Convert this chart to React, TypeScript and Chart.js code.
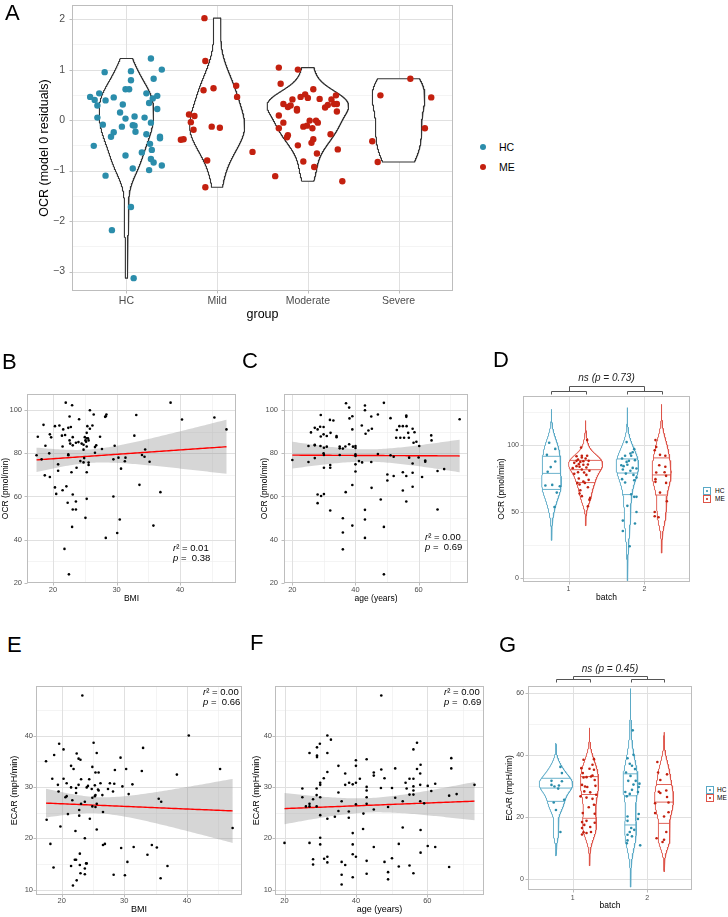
import React, { useEffect, useRef } from "react";
import { Chart, registerables } from "chart.js";

Chart.register(...registerables);

const FF = "'Liberation Sans', Arial, Helvetica, sans-serif";
Chart.defaults.font.family = FF;

const TEAL = "#2b8dab";
const RED = "#c3200f";
const TEAL_LIGHT = "#5aa9c6";
const RED_LIGHT = "#de5448";
const TICK_COL = "#4d4d4d";
const GRID_MAJOR = "#e0e0e0";
const GRID_MINOR = "#ececec";
const BORDER = "#bdbdbd";

// ---------------- Panel A data ----------------
const A_CATEGORIES = ["HC", "Mild", "Moderate", "Severe"];
const A_HC_OCR = [0.95, 0.97, 0.79, 1.22, 1.0, 0.82, 0.46, 0.53, 0.4, 0.29, 0.39, 0.45, 0.61, 0.61, 0.31, 0.15, 0.03, 0.05, -0.09, -0.13, 0.07, -0.1, -0.11, -0.23, -0.24, -0.33, -0.51, 0.53, 0.48, 0.43, 0.34, 0.22, 0.05, -0.05, -0.28, -0.33, -0.36, -0.47, -0.64, -0.59, -0.77, -0.84, -0.7, -0.96, -0.99, -0.9, -1.1, -1.72, -2.18, -3.13];
const A_HC_JIT = [-0.24, 0.05, 0.05, 0.27, 0.39, 0.3, -0.4, -0.3, -0.35, -0.32, -0.23, -0.14, -0.01, 0.03, -0.04, -0.07, -0.01, -0.32, -0.26, -0.05, 0.09, 0.07, 0.09, 0.1, -0.14, -0.17, -0.36, 0.22, 0.34, 0.29, 0.25, 0.34, 0.2, 0.27, 0.22, 0.37, 0.37, 0.26, 0.17, 0.28, 0.27, 0.3, -0.01, 0.07, 0.25, 0.39, -0.23, 0.05, -0.16, 0.08];
const A_MILD_OCR = [2.02, 1.17, 0.59, 0.63, 0.68, 0.46, 0.11, 0.08, -0.04, -0.19, -0.13, -0.15, -0.39, -0.38, -0.8, -1.33, -0.63];
const A_MILD_JIT = [-0.14, -0.13, -0.15, -0.04, 0.21, 0.22, -0.31, -0.25, -0.29, -0.26, -0.06, 0.03, -0.4, -0.37, -0.11, -0.13, 0.39];
const A_MOD_OCR = [1.04, 1.0, 0.72, 0.61, 0.46, 0.51, 0.44, 0.41, 0.42, 0.49, 0.41, 0.32, 0.26, 0.29, 0.22, 0.19, 0.25, 0.3, 0.32, 0.32, 0.17, 0.09, -0.05, -0.01, -0.01, -0.05, -0.13, -0.11, -0.16, -0.16, -0.3, -0.34, -0.28, -0.38, -0.45, -0.5, -0.58, -0.66, -0.82, -0.93, -1.11, -1.21];
const A_MOD_JIT = [-0.32, -0.11, -0.3, 0.06, -0.08, -0.03, 0.0, -0.17, 0.13, 0.31, 0.26, -0.27, -0.22, -0.19, -0.12, -0.12, 0.19, 0.22, 0.29, 0.32, 0.32, -0.32, -0.27, 0.02, 0.09, 0.11, -0.05, -0.01, 0.05, -0.32, -0.22, -0.23, 0.25, 0.06, 0.04, -0.11, 0.33, 0.1, -0.05, 0.07, -0.36, 0.38];
const A_SEV_OCR = [0.82, 0.49, 0.45, -0.16, -0.42, -0.83];
const A_SEV_JIT = [0.13, -0.2, 0.36, 0.29, -0.29, -0.23];

// ---------------- Panel B data (BMI vs OCR) ----------------
const B_BMI = [22.0, 23.0, 38.5, 18.5, 20.3, 21.0, 21.6, 22.4, 22.8, 22.6, 24.1, 25.8, 26.4, 25.4, 26.2, 25.8, 25.3, 28.3, 28.4, 28.2, 33.1, 40.3, 45.4, 47.3, 17.6, 19.5, 19.7, 21.4, 21.9, 21.5, 18.8, 23.1, 22.6, 22.7, 23.1, 23.6, 24.0, 24.5, 25.0, 25.3, 25.5, 24.8, 25.1, 25.2, 25.6, 25.3, 26.8, 26.6, 27.4, 24.8, 27.7, 29.7, 32.8, 34.5, 17.4, 18.2, 19.4, 22.4, 22.4, 18.7, 19.5, 20.8, 20.8, 20.3, 20.5, 21.5, 22.1, 22.9, 23.7, 23.1, 23.6, 22.3, 23.1, 23.6, 23.0, 21.8, 22.5, 24.3, 24.8, 24.9, 25.6, 25.6, 25.3, 25.3, 25.1, 26.6, 29.5, 30.3, 31.4, 31.3, 30.7, 29.5, 30.5, 30.1, 28.3, 33.6, 34.0, 34.4, 35.2, 36.9, 35.8];
const B_OCR = [103.5, 102.3, 103.5, 93.2, 92.6, 92.9, 91.1, 91.8, 92.2, 97.1, 95.8, 100.0, 98.0, 92.6, 92.9, 91.4, 89.5, 97.2, 98.0, 96.9, 97.8, 95.7, 96.6, 91.1, 87.7, 88.8, 87.4, 88.2, 88.5, 83.2, 83.5, 87.5, 86.0, 84.5, 83.7, 84.9, 85.2, 84.5, 87.5, 87.0, 87.0, 84.0, 86.0, 85.4, 86.0, 83.2, 83.7, 82.9, 87.7, 81.7, 82.0, 83.5, 88.2, 81.8, 79.1, 77.2, 80.0, 79.5, 79.1, 69.8, 69.0, 74.9, 71.9, 64.2, 61.2, 62.9, 64.7, 71.2, 73.3, 60.9, 57.7, 57.1, 54.0, 54.0, 45.9, 35.7, 23.9, 76.4, 75.8, 77.8, 75.7, 74.6, 71.2, 58.9, 50.1, 80.3, 77.2, 78.0, 78.0, 76.3, 72.9, 60.0, 49.3, 43.1, 40.8, 65.4, 79.2, 78.4, 76.1, 62.0, 46.5];

// ---------------- Panel C data (age vs OCR) ----------------
const C_AGE = [37.0, 38.0, 43.0, 43.0, 49.0, 29.0, 31.9, 33.0, 38.1, 39.0, 45.0, 47.1, 51.1, 56.1, 56.1, 73.0, 25.9, 27.1, 28.0, 28.8, 29.9, 29.0, 29.9, 30.9, 32.1, 34.0, 34.0, 39.0, 42.0, 44.1, 45.2, 43.2, 53.1, 53.9, 55.0, 56.2, 58.1, 56.7, 58.7, 52.9, 54.2, 55.4, 56.9, 58.4, 59.3, 60.2, 64.0, 64.1, 25.1, 27.1, 27.1, 28.9, 30.0, 30.9, 35.0, 35.0, 36.0, 36.8, 38.0, 39.2, 40.0, 40.0, 20.0, 25.1, 27.1, 29.9, 30.0, 30.0, 32.0, 32.0, 35.0, 40.0, 40.0, 40.0, 40.0, 41.1, 42.1, 39.0, 45.0, 47.1, 50.1, 50.1, 52.1, 51.1, 52.1, 55.0, 56.1, 58.1, 57.0, 58.1, 60.0, 62.1, 62.1, 66.0, 68.1, 61.1, 55.0, 58.1, 56.1, 48.0, 45.1, 36.9, 28.0, 29.1, 30.0, 28.0, 32.0, 36.0, 43.0, 43.0, 39.0, 36.0, 49.0, 43.0, 36.0, 49.0, 66.0];
const C_OCR = [103.2, 101.2, 102.2, 100.0, 103.4, 97.8, 95.5, 95.2, 96.2, 97.2, 97.1, 98.0, 96.3, 97.5, 96.9, 95.8, 89.7, 91.8, 91.1, 92.3, 92.2, 87.8, 88.8, 88.0, 89.5, 88.0, 87.5, 91.1, 92.9, 90.6, 91.4, 89.1, 90.8, 92.6, 92.6, 92.6, 91.4, 89.5, 89.8, 87.2, 87.2, 87.2, 87.2, 84.9, 85.4, 83.4, 88.3, 86.0, 83.4, 83.7, 84.0, 83.4, 82.6, 83.1, 83.2, 82.3, 82.2, 83.2, 84.2, 83.1, 83.4, 82.5, 76.9, 76.0, 77.8, 80.0, 79.2, 73.3, 74.6, 73.3, 79.2, 79.5, 78.8, 74.9, 71.6, 76.4, 75.8, 65.3, 76.0, 79.7, 70.2, 67.4, 69.5, 79.1, 78.4, 71.2, 69.5, 71.0, 78.0, 75.3, 78.1, 76.7, 76.1, 71.8, 72.7, 69.0, 62.8, 64.5, 57.7, 58.6, 64.0, 62.0, 60.9, 60.2, 61.1, 56.9, 53.5, 49.9, 53.8, 49.3, 46.5, 43.3, 45.9, 40.8, 35.5, 23.9, 54.0];

// ---------------- Panel E data (BMI vs ECAR) ----------------
const E_BMI = [23.3, 40.3, 45.3, 47.3, 17.5, 17.6, 19.6, 18.8, 20.3, 18.5, 19.4, 19.5, 20.3, 20.8, 20.6, 20.8, 21.5, 21.5, 21.9, 21.7, 21.0, 19.8, 22.2, 22.4, 22.7, 23.0, 22.3, 22.3, 22.7, 23.1, 22.8, 22.8, 23.1, 23.7, 23.7, 24.4, 24.2, 24.0, 24.5, 24.9, 25.1, 24.8, 24.9, 24.9, 25.3, 25.4, 25.3, 25.4, 25.6, 25.4, 25.9, 25.6, 25.8, 25.9, 25.6, 26.2, 26.5, 26.6, 26.6, 26.9, 27.4, 27.7, 28.5, 28.4, 28.2, 29.4, 29.7, 30.3, 30.7, 31.3, 29.5, 31.5, 28.3, 30.1, 30.5, 32.8, 33.0, 35.5, 35.9, 34.4, 35.2, 33.7, 36.9, 35.8, 38.4, 18.2, 18.7, 22.9, 22.1, 22.3, 21.5, 22.9, 23.7, 23.9, 24.0, 22.4, 23.0, 23.7, 21.8];
const E_ECAR = [47.8, 40.0, 33.5, 22.0, 35.0, 23.6, 38.4, 36.2, 37.3, 31.6, 30.4, 29.1, 31.6, 30.7, 28.0, 28.2, 29.9, 34.1, 33.5, 27.4, 24.7, 22.3, 21.4, 36.5, 35.5, 35.3, 29.8, 28.8, 30.4, 31.5, 25.5, 24.4, 26.7, 27.1, 20.0, 31.5, 30.2, 29.9, 23.8, 33.9, 38.6, 29.6, 27.9, 26.2, 30.3, 28.4, 28.2, 26.1, 26.7, 32.8, 32.8, 36.6, 29.5, 29.3, 21.7, 30.7, 28.4, 25.1, 18.7, 18.9, 29.6, 30.7, 33.3, 30.6, 29.1, 35.7, 30.1, 33.5, 28.6, 30.5, 18.1, 18.3, 12.9, 12.8, 15.4, 33.1, 37.6, 27.7, 27.1, 18.7, 18.2, 16.8, 14.6, 12.2, 32.4, 18.9, 14.3, 17.0, 15.8, 15.8, 14.6, 14.8, 14.1, 15.1, 15.1, 11.8, 13.2, 13.0, 10.8];

// ---------------- Panel F data (age vs ECAR) ----------------
const F_AGE = [47.1, 32.0, 33.0, 27.0, 29.9, 29.1, 29.1, 29.1, 32.0, 35.1, 40.0, 40.0, 43.0, 57.1, 56.1, 66.7, 66.7, 58.1, 58.0, 57.1, 56.1, 55.0, 53.9, 56.1, 56.1, 56.1, 55.0, 54.2, 58.0, 60.1, 62.2, 61.1, 58.0, 59.1, 53.1, 51.0, 50.1, 51.0, 49.0, 47.0, 47.1, 48.0, 45.0, 45.0, 43.0, 43.0, 43.0, 43.0, 41.1, 40.0, 39.1, 38.1, 37.0, 37.0, 40.0, 42.1, 45.0, 35.1, 36.0, 35.1, 38.0, 38.0, 34.1, 32.0, 32.0, 31.0, 30.0, 30.0, 29.0, 29.0, 28.0, 30.0, 30.0, 27.0, 27.0, 25.0, 25.0, 26.0, 29.0, 20.0, 27.0, 30.0, 30.0, 28.0, 28.0, 31.1, 32.0, 32.0, 36.0, 36.0, 36.0, 37.0, 39.1, 39.1, 39.1, 40.0, 39.1, 42.0, 43.0, 43.0, 45.0, 48.0, 49.0, 49.0, 50.1, 52.0, 52.0, 53.1, 55.0, 56.1, 58.1, 58.1, 60.1, 62.2, 66.1, 66.1, 68.2, 73.2];
const F_ECAR = [47.8, 40.0, 39.2, 36.6, 38.4, 37.7, 36.1, 35.8, 36.6, 34.1, 35.2, 34.1, 35.4, 38.6, 37.3, 35.6, 33.6, 34.3, 32.6, 33.5, 31.6, 31.6, 30.8, 30.1, 29.3, 28.5, 28.5, 29.7, 30.4, 30.2, 30.6, 29.2, 27.2, 26.8, 27.2, 27.9, 29.8, 33.6, 26.1, 29.8, 33.4, 31.7, 32.2, 32.8, 30.0, 29.3, 28.0, 26.7, 31.6, 30.8, 30.5, 30.8, 30.4, 32.6, 26.6, 24.8, 25.6, 28.9, 27.2, 25.3, 25.2, 24.0, 24.2, 23.8, 32.9, 31.7, 30.8, 30.4, 29.7, 28.4, 27.6, 28.0, 24.5, 26.7, 26.2, 29.7, 28.0, 26.2, 26.2, 19.1, 19.1, 20.1, 18.8, 15.9, 14.9, 16.0, 16.4, 15.3, 15.4, 12.9, 11.0, 14.8, 21.0, 18.8, 16.9, 16.4, 12.4, 21.8, 15.6, 13.1, 18.3, 15.4, 13.4, 12.0, 16.1, 14.5, 18.9, 22.1, 14.7, 13.2, 17.2, 21.6, 18.5, 18.3, 14.4, 28.3, 28.6, 30.4];

// ---------------- Panel D data (OCR by batch/group) ----------------
const BATCH_LABELS = ["1", "2"];
const D_HC1 = [101.8, 97.2, 92.7, 87.7, 83.5, 80.0, 70.1, 69.6, 69.1, 64.3, 53.5];
const D_HC1_JIT = [-0.03, 0.05, -0.06, 0.05, -0.01, -0.05, 0.01, -0.08, 0.11, 0.07, 0.04];
const D_ME1 = [103.8, 98.2, 91.7, 90.7, 92.0, 92.0, 90.0, 89.2, 88.2, 87.4, 87.9, 88.2, 86.7, 85.7, 85.2, 85.4, 84.2, 83.7, 83.2, 82.7, 81.7, 80.7, 79.6, 79.4, 78.4, 77.6, 74.9, 73.9, 72.6, 71.6, 71.6, 70.4, 68.3, 66.1, 63.6, 61.6, 60.3, 59.0, 54.0];
const D_ME1_JIT = [0.02, -0.06, -0.12, -0.05, -0.05, 0.02, 0.0, -0.1, -0.12, -0.07, -0.03, 0.04, -0.15, -0.09, -0.03, 0.03, -0.12, -0.08, 0.01, -0.17, -0.05, 0.05, -0.1, -0.02, -0.15, 0.01, -0.09, 0.04, -0.03, -0.11, -0.01, -0.08, 0.03, -0.07, -0.08, -0.05, 0.06, 0.05, 0.03];
const D_HC2 = [102.3, 97.0, 94.7, 93.7, 92.0, 92.0, 90.0, 88.7, 88.2, 87.4, 85.2, 84.9, 84.2, 82.9, 82.4, 81.7, 80.7, 78.6, 77.6, 75.6, 74.4, 73.6, 71.9, 63.1, 61.1, 61.1, 54.3, 49.7, 43.2, 41.0, 35.4, 23.9];
const D_HC2_JIT = [-0.01, 0.09, 0.07, 0.04, -0.03, 0.05, -0.07, 0.1, 0.02, -0.01, 0.0, -0.08, -0.05, 0.07, 0.12, -0.06, 0.04, -0.02, 0.08, 0.12, -0.07, 0.09, -0.03, 0.05, 0.09, 0.12, 0.0, 0.12, -0.06, 0.1, -0.06, 0.03];
const D_ME2 = [103.8, 98.7, 96.2, 92.7, 92.0, 84.9, 83.7, 79.6, 79.4, 76.9, 74.4, 72.4, 71.6, 64.3, 57.8, 49.7, 46.5, 45.7];
const D_ME2_JIT = [-0.08, -0.07, -0.09, -0.02, 0.05, -0.03, 0.05, 0.04, -0.07, 0.06, -0.08, -0.08, 0.06, -0.02, 0.07, -0.09, -0.09, -0.04];

// ---------------- Panel G data (ECAR by batch/group) ----------------
const G_HC1 = [36.2, 34.2, 31.7, 31.6, 30.4, 30.2, 29.9, 29.2, 25.6, 24.7, 22.3, 15.2];
const G_HC1_JIT = [0.06, 0.08, -0.06, 0.08, -0.06, 0.04, -0.02, 0.03, 0.11, -0.03, 0.0, 0.06];
const G_ME1 = [38.5, 38.7, 36.9, 35.8, 35.6, 35.3, 34.2, 33.4, 33.1, 32.9, 32.8, 32.0, 30.4, 29.9, 29.7, 30.1, 28.3, 28.0, 27.2, 26.7, 26.3, 25.9, 24.0, 23.2, 21.3, 21.1, 18.8, 18.4, 18.2, 17.5, 16.8, 16.5, 15.1, 14.9, 15.2, 14.4];
const G_ME1_JIT = [-0.08, 0.06, 0.04, -0.11, 0.0, 0.06, -0.09, 0.04, 0.02, -0.04, -0.08, 0.07, -0.1, -0.06, -0.03, 0.08, -0.07, 0.01, 0.09, -0.12, -0.04, 0.04, 0.06, -0.01, -0.09, 0.07, -0.04, -0.1, 0.07, -0.07, 0.01, -0.1, -0.08, -0.04, 0.02, -0.1];
const G_HC2 = [48.0, 40.1, 39.0, 37.2, 36.6, 35.5, 34.4, 33.3, 31.7, 31.7, 30.8, 30.5, 29.7, 28.8, 28.1, 27.5, 28.1, 26.7, 20.2, 21.0, 18.8, 19.4, 16.5, 15.9, 15.2, 14.3, 13.8, 12.5, 11.6, 10.9];
const G_HC2_JIT = [0.03, 0.04, -0.04, -0.01, 0.02, 0.06, -0.06, 0.0, -0.03, 0.07, 0.12, 0.04, 0.11, 0.02, -0.07, -0.01, 0.1, -0.05, -0.04, 0.11, -0.04, 0.1, 0.01, 0.05, -0.01, -0.04, 0.02, -0.04, -0.05, 0.13];
const G_ME2 = [37.8, 34.4, 33.8, 32.0, 28.6, 28.2, 27.8, 26.5, 24.5, 24.7, 21.6, 21.3, 20.2, 15.2, 13.2, 12.7, 12.0];
const G_ME2_JIT = [-0.09, -0.08, 0.04, -0.05, 0.03, -0.07, -0.05, 0.04, -0.12, 0.06, 0.06, -0.12, 0.0, 0.03, -0.1, 0.0, -0.02];

// ---------------- statistics helpers ----------------
function q7(sorted: number[], p: number) {
  const h = (sorted.length - 1) * p;
  const lo = Math.floor(h);
  const hi = Math.min(lo + 1, sorted.length - 1);
  return sorted[lo] + (h - lo) * (sorted[hi] - sorted[lo]);
}
function bwNrd0(x: number[]) {
  const n = x.length;
  const s = [...x].sort((a, b) => a - b);
  const mean = x.reduce((a, b) => a + b, 0) / n;
  const sd = Math.sqrt(x.reduce((a, b) => a + (b - mean) * (b - mean), 0) / (n - 1));
  const iqr = q7(s, 0.75) - q7(s, 0.25);
  let lo = Math.min(sd, iqr / 1.34);
  if (!(lo > 0)) lo = sd || Math.abs(s[0]) || 1;
  return 0.9 * lo * Math.pow(n, -0.2);
}
function kde(vals: number[], trim: boolean, m = 512) {
  const bw = bwNrd0(vals);
  const lo = Math.min(...vals) - (trim ? 0 : 3 * bw);
  const hi = Math.max(...vals) + (trim ? 0 : 3 * bw);
  const c = 1 / (vals.length * bw * Math.sqrt(2 * Math.PI));
  const y: number[] = [];
  const d: number[] = [];
  for (let k = 0; k < m; k++) {
    const yy = lo + ((hi - lo) * k) / (m - 1);
    let s = 0;
    for (const v of vals) {
      const u = (yy - v) / bw;
      s += Math.exp(-0.5 * u * u);
    }
    y.push(yy);
    d.push(s * c);
  }
  return { y, d };
}
function tq975(df: number) {
  const z = 1.959964;
  return z + (z ** 3 + z) / (4 * df) + (5 * z ** 5 + 16 * z ** 3 + 3 * z) / (96 * df * df);
}
function lmBand(xs: number[], ys: number[], m = 80) {
  const n = xs.length;
  const mx = xs.reduce((a, b) => a + b, 0) / n;
  const my = ys.reduce((a, b) => a + b, 0) / n;
  let sxx = 0, sxy = 0;
  for (let i = 0; i < n; i++) {
    sxx += (xs[i] - mx) ** 2;
    sxy += (xs[i] - mx) * (ys[i] - my);
  }
  const b = sxy / sxx;
  const a = my - b * mx;
  let sse = 0;
  for (let i = 0; i < n; i++) sse += (ys[i] - a - b * xs[i]) ** 2;
  const s = Math.sqrt(sse / (n - 2));
  const t = tq975(n - 2);
  const lo = Math.min(...xs), hi = Math.max(...xs);
  const line: { x: number; y: number }[] = [];
  const up: { x: number; y: number }[] = [];
  const dn: { x: number; y: number }[] = [];
  for (let k = 0; k < m; k++) {
    const x = lo + ((hi - lo) * k) / (m - 1);
    const yh = a + b * x;
    const se = s * Math.sqrt(1 / n + (x - mx) ** 2 / sxx);
    line.push({ x, y: yh });
    up.push({ x, y: yh + t * se });
    dn.push({ x, y: yh - t * se });
  }
  const band = [...up, ...dn.reverse(), { ...up[0] }];
  return { line, band };
}

type VGroup = { vals: number[]; center: number; color: string };
function violinSets(groups: VGroup[], halfW: number, trim: boolean, lw: number, quant: boolean) {
  const dens = groups.map((g) => kde(g.vals, trim));
  const gmax = Math.max(...dens.map((d) => Math.max(...d.d)));
  const shapes: any[] = [];
  const lines: any[] = [];
  dens.forEach((d, i) => {
    const g = groups[i];
    const pts: { x: number; y: number }[] = [];
    for (let k = 0; k < d.y.length; k++) pts.push({ x: g.center - (halfW * d.d[k]) / gmax, y: d.y[k] });
    for (let k = d.y.length - 1; k >= 0; k--) pts.push({ x: g.center + (halfW * d.d[k]) / gmax, y: d.y[k] });
    pts.push({ ...pts[0] });
    shapes.push({
      data: pts, borderColor: g.color, borderWidth: lw, backgroundColor: "#ffffff",
      fill: "shape", pointRadius: 0, tension: 0, borderJoinStyle: "round",
    });
    if (quant) {
      const total = d.d.reduce((a, b) => a + b, 0);
      let cum = 0;
      const cdf = d.d.map((v) => (cum += v) / total);
      for (const q of [0.25, 0.5, 0.75]) {
        const k = Math.max(1, cdf.findIndex((c) => c >= q));
        const k0 = k - 1;
        const t = cdf[k] === cdf[k0] ? 0 : (q - cdf[k0]) / (cdf[k] - cdf[k0]);
        const yq = d.y[k0] + t * (d.y[k] - d.y[k0]);
        const dq = d.d[k0] + t * (d.d[k] - d.d[k0]);
        const hw = (halfW * dq) / gmax;
        lines.push({
          data: [{ x: g.center - hw, y: yq }, { x: g.center + hw, y: yq }],
          borderColor: g.color, borderWidth: lw, pointRadius: 0, fill: false,
        });
      }
    }
  });
  return { shapes, lines };
}

function pointSet(xs: number[], ys: number[], color: string, r: number) {
  return {
    data: xs.map((x, i) => ({ x, y: ys[i] })),
    showLine: false, pointRadius: r, pointHoverRadius: r,
    pointBackgroundColor: color, pointBorderColor: color, pointBorderWidth: 0,
    borderColor: color, backgroundColor: color,
  };
}

// ---------------- plugins ----------------
const ggPanel = {
  id: "ggPanel",
  beforeDatasetsDraw(chart: any, _a: any, opts: any) {
    const { ctx, chartArea: a } = chart;
    const xs = chart.scales.x, ys = chart.scales.y;
    ctx.save();
    ctx.beginPath();
    ctx.rect(a.left, a.top, a.right - a.left, a.bottom - a.top);
    ctx.clip();
    const v = (val: number, w: number, c: string) => {
      const p = Math.round(xs.getPixelForValue(val)) + 0.5;
      ctx.beginPath(); ctx.moveTo(p, a.top); ctx.lineTo(p, a.bottom);
      ctx.lineWidth = w; ctx.strokeStyle = c; ctx.stroke();
    };
    const h = (val: number, w: number, c: string) => {
      const p = Math.round(ys.getPixelForValue(val)) + 0.5;
      ctx.beginPath(); ctx.moveTo(a.left, p); ctx.lineTo(a.right, p);
      ctx.lineWidth = w; ctx.strokeStyle = c; ctx.stroke();
    };
    (opts.xMinor || []).forEach((x: number) => v(x, 0.6, GRID_MINOR));
    (opts.yMinor || []).forEach((y: number) => h(y, 0.6, GRID_MINOR));
    xs.ticks.forEach((t: any) => v(t.value, 1, GRID_MAJOR));
    ys.ticks.forEach((t: any) => h(t.value, 1, GRID_MAJOR));
    ctx.restore();
  },
  afterDatasetsDraw(chart: any) {
    const { ctx, chartArea: a } = chart;
    const xs = chart.scales.x, ys = chart.scales.y;
    ctx.save();
    ctx.strokeStyle = BORDER;
    ctx.lineWidth = 1;
    const L = Math.round(a.left) + 0.5, T = Math.round(a.top) + 0.5;
    const R = Math.round(a.right) - 0.5, B = Math.round(a.bottom) - 0.5;
    ctx.strokeRect(L, T, R - L, B - T);
    ctx.beginPath();
    xs.ticks.forEach((t: any) => {
      const p = Math.round(xs.getPixelForValue(t.value)) + 0.5;
      ctx.moveTo(p, B); ctx.lineTo(p, B + 3);
    });
    ys.ticks.forEach((t: any) => {
      const p = Math.round(ys.getPixelForValue(t.value)) + 0.5;
      ctx.moveTo(L - 3, p); ctx.lineTo(L, p);
    });
    ctx.stroke();
    ctx.restore();
  },
};

const sigBracket = {
  id: "sigBracket",
  afterDraw(chart: any, _a: any, opts: any) {
    if (!opts || !opts.text) return;
    const { ctx, chartArea: a } = chart;
    const xs = chart.scales.x;
    const px = (v: number) => Math.round(xs.getPixelForValue(v)) + 0.5;
    const y0 = Math.round(a.top - opts.top) + 0.5;
    const y1 = Math.round(a.top - opts.mid) + 0.5;
    const y2 = Math.round(a.top - opts.tip) + 0.5;
    ctx.save();
    ctx.strokeStyle = "#555555";
    ctx.lineWidth = 1;
    ctx.beginPath();
    ctx.moveTo(px(1), y1); ctx.lineTo(px(1), y0); ctx.lineTo(px(2), y0); ctx.lineTo(px(2), y1);
    for (const c of [1, 2]) {
      ctx.moveTo(px(c - 0.225), y2); ctx.lineTo(px(c - 0.225), y1);
      ctx.lineTo(px(c + 0.225), y1); ctx.lineTo(px(c + 0.225), y2);
    }
    ctx.stroke();
    ctx.fillStyle = "#222222";
    ctx.font = `italic 10px ${FF}`;
    ctx.textAlign = "center";
    ctx.textBaseline = "middle";
    ctx.fillText(opts.text, xs.getPixelForValue(1.5), a.top - opts.textOff);
    ctx.restore();
  },
};

// ---------------- panel specs ----------------
type AxisSpec = {
  min: number; max: number; ticks: number[]; minor: number[]; labels?: string[];
  title: string; titleSize: number; tickSize: number; gap: number; titlePad: number;
};
type PanelSpec = {
  L: number; T: number; R: number; B: number;
  cL: number; cT: number; cR: number; cB: number;
  x: AxisSpec; y: AxisSpec; datasets: any[]; bracket?: any;
};

function fmt(v: number) {
  return v < 0 ? "\u2212" + Math.abs(v) : String(v);
}

function makeConfig(p: PanelSpec) {
  const yW = p.L - p.cL;
  const xH = p.cB - p.B;
  return {
    type: "line",
    data: { datasets: p.datasets },
    options: {
      responsive: false, maintainAspectRatio: false, animation: false, devicePixelRatio: 1, events: [],
      layout: { padding: { top: p.T - p.cT, right: p.cR - p.R, left: 0, bottom: 0 } },
      elements: { line: { tension: 0 } },
      plugins: {
        legend: { display: false }, tooltip: { enabled: false }, title: { display: false },
        colors: { enabled: false },
        ggPanel: { xMinor: p.x.minor, yMinor: p.y.minor },
        sigBracket: p.bracket || false,
      },
      scales: {
        x: {
          type: "linear", position: "bottom", min: p.x.min, max: p.x.max,
          grid: { display: false, drawTicks: true, tickLength: p.x.gap }, border: { display: false },
          afterBuildTicks: (s: any) => { s.ticks = p.x.ticks.map((v) => ({ value: v })); },
          afterFit: (s: any) => { s.height = xH; },
          ticks: {
            autoSkip: false, maxRotation: 0, minRotation: 0, padding: 0, color: TICK_COL,
            font: { family: FF, size: p.x.tickSize },
            callback: (v: number) => (p.x.labels ? p.x.labels[Math.round(v) - 1] : fmt(v)),
          },
          title: {
            display: true, text: p.x.title, color: "#000", font: { family: FF, size: p.x.titleSize },
            padding: { top: 0, bottom: p.x.titlePad },
          },
        },
        y: {
          type: "linear", position: "left", min: p.y.min, max: p.y.max,
          grid: { display: false, drawTicks: true, tickLength: p.y.gap }, border: { display: false },
          afterBuildTicks: (s: any) => { s.ticks = p.y.ticks.map((v) => ({ value: v })); },
          afterFit: (s: any) => { s.width = yW; },
          ticks: {
            autoSkip: false, padding: 0, color: TICK_COL, font: { family: FF, size: p.y.tickSize },
            callback: (v: number) => fmt(v),
          },
          title: {
            display: true, text: p.y.title, color: "#000", font: { family: FF, size: p.y.titleSize },
            padding: { top: p.y.titlePad, bottom: 0 },
          },
        },
      },
    },
    plugins: [ggPanel, sigBracket],
  };
}

function jitterXs(vals: number[], jit: number[], center: number) {
  return vals.map((_, i) => center + jit[i]);
}

function buildA(): any[] {
  const groups = [
    { vals: A_HC_OCR, jit: A_HC_JIT, center: 1, color: TEAL },
    { vals: A_MILD_OCR, jit: A_MILD_JIT, center: 2, color: RED },
    { vals: A_MOD_OCR, jit: A_MOD_JIT, center: 3, color: RED },
    { vals: A_SEV_OCR, jit: A_SEV_JIT, center: 4, color: RED },
  ];
  const pts = groups.map((g) => pointSet(jitterXs(g.vals, g.jit, g.center), g.vals, g.color, 3.2));
  const v = violinSets(groups.map((g) => ({ vals: g.vals, center: g.center, color: "#333333" })), 0.45, true, 1.1, false);
  return [...pts, ...v.shapes];
}

function buildSplit(sets: { vals: number[]; jit: number[] }[]): any[] {
  const centers = [0.775, 1.225, 1.775, 2.225];
  const lineCols = [TEAL_LIGHT, RED_LIGHT, TEAL_LIGHT, RED_LIGHT];
  const ptCols = [TEAL, RED, TEAL, RED];
  const pts = sets.map((s, i) => pointSet(jitterXs(s.vals, s.jit, centers[i]), s.vals, ptCols[i], 1.3));
  const v = violinSets(sets.map((s, i) => ({ vals: s.vals, center: centers[i], color: lineCols[i] })), 0.225, false, 0.9, true);
  return [...pts, ...v.lines, ...v.shapes];
}

function buildScatter(xs: number[], ys: number[]): any[] {
  const fit = lmBand(xs, ys);
  return [
    pointSet(xs, ys, "#000000", 1.3),
    { data: fit.line, borderColor: "#ff0000", borderWidth: 1.4, pointRadius: 0, fill: false },
    {
      data: fit.band, borderWidth: 0, borderColor: "rgba(0,0,0,0)",
      backgroundColor: "rgba(153,153,153,0.4)", fill: "shape", pointRadius: 0,
    },
  ];
}

const SPEC_A: PanelSpec = {
  L: 72, T: 5, R: 453, B: 291, cL: 0, cT: -3, cR: 460, cB: 325,
  x: { min: 0.4, max: 4.6, ticks: [1, 2, 3, 4], minor: [], labels: A_CATEGORIES, title: "group", titleSize: 12.5, tickSize: 10.5, gap: 3.7, titlePad: 2.5 },
  y: { min: -3.385, max: 2.28, ticks: [-3, -2, -1, 0, 1, 2], minor: [-2.5, -1.5, -0.5, 0.5, 1.5], title: "OCR (model 0 residuals)", titleSize: 12.5, tickSize: 10.5, gap: 7, titlePad: 37.5 },
  datasets: buildA(),
};

const SPEC_B: PanelSpec = {
  L: 27, T: 394, R: 236, B: 583, cL: 0, cT: 386, cR: 240, cB: 606,
  x: { min: 15.9, max: 48.8, ticks: [20, 30, 40], minor: [25, 35, 45], title: "BMI", titleSize: 8.5, tickSize: 7.5, gap: 2.5, titlePad: 1.9 },
  y: { min: 19.9, max: 107.5, ticks: [20, 40, 60, 80, 100], minor: [30, 50, 70, 90], title: "OCR (pmol/min)", titleSize: 8.5, tickSize: 7.5, gap: 5, titlePad: 0.4 },
  datasets: buildScatter(B_BMI, B_OCR),
};

const SPEC_C: PanelSpec = {
  L: 284, T: 394, R: 468, B: 583, cL: 255, cT: 386, cR: 472, cB: 606,
  x: { min: 17.35, max: 75.65, ticks: [20, 40, 60], minor: [30, 50, 70], title: "age (years)", titleSize: 8.5, tickSize: 7.5, gap: 2.5, titlePad: 1.9 },
  y: { min: 19.9, max: 107.5, ticks: [20, 40, 60, 80, 100], minor: [30, 50, 70, 90], title: "OCR (pmol/min)", titleSize: 8.5, tickSize: 7.5, gap: 6, titlePad: 4.9 },
  datasets: buildScatter(C_AGE, C_OCR),
};

const SPEC_D: PanelSpec = {
  L: 523, T: 396, R: 690, B: 582, cL: 490, cT: 366, cR: 695, cB: 605,
  x: { min: 0.4, max: 2.6, ticks: [1, 2], minor: [], labels: BATCH_LABELS, title: "batch", titleSize: 8.5, tickSize: 7, gap: 2.8, titlePad: 1.9 },
  y: { min: -3, max: 137, ticks: [0, 50, 100], minor: [25, 75, 125], title: "OCR (pmol/min)", titleSize: 8.5, tickSize: 7, gap: 4, titlePad: 6.9 },
  datasets: buildSplit([
    { vals: D_HC1, jit: D_HC1_JIT }, { vals: D_ME1, jit: D_ME1_JIT },
    { vals: D_HC2, jit: D_HC2_JIT }, { vals: D_ME2, jit: D_ME2_JIT },
  ]),
  bracket: { text: "ns (p = 0.73)", top: 10, mid: 5, tip: 2, textOff: 18 },
};

const SPEC_E: PanelSpec = {
  L: 36, T: 686, R: 242, B: 895, cL: 0, cT: 678, cR: 246, cB: 917,
  x: { min: 15.9, max: 48.8, ticks: [20, 30, 40], minor: [25, 35, 45], title: "BMI", titleSize: 9, tickSize: 7.5, gap: 1.5, titlePad: 1.6 },
  y: { min: 8.95, max: 49.65, ticks: [10, 20, 30, 40], minor: [15, 25, 35, 45], title: "ECAR (mpH/min)", titleSize: 9, tickSize: 7.5, gap: 3, titlePad: 9.6 },
  datasets: buildScatter(E_BMI, E_ECAR),
};

const SPEC_F: PanelSpec = {
  L: 275, T: 686, R: 484, B: 895, cL: 246, cT: 678, cR: 488, cB: 917,
  x: { min: 17.34, max: 75.86, ticks: [20, 40, 60], minor: [30, 50, 70], title: "age (years)", titleSize: 9, tickSize: 7.5, gap: 1.5, titlePad: 1.6 },
  y: { min: 8.95, max: 49.65, ticks: [10, 20, 30, 40], minor: [15, 25, 35, 45], title: "ECAR (mpH/min)", titleSize: 9, tickSize: 7.5, gap: 3, titlePad: 5.6 },
  datasets: buildScatter(F_AGE, F_ECAR),
};

const SPEC_G: PanelSpec = {
  L: 528, T: 686, R: 692, B: 890, cL: 494, cT: 656, cR: 697, cB: 913,
  x: { min: 0.4, max: 2.6, ticks: [1, 2], minor: [], labels: BATCH_LABELS, title: "batch", titleSize: 8.5, tickSize: 7, gap: 3.8, titlePad: 1.9 },
  y: { min: -3.5, max: 62.3, ticks: [0, 20, 40, 60], minor: [10, 30, 50], title: "ECAR (mpH/min)", titleSize: 8.5, tickSize: 7, gap: 4, titlePad: 10.9 },
  datasets: buildSplit([
    { vals: G_HC1, jit: G_HC1_JIT }, { vals: G_ME1, jit: G_ME1_JIT },
    { vals: G_HC2, jit: G_HC2_JIT }, { vals: G_ME2, jit: G_ME2_JIT },
  ]),
  bracket: { text: "ns (p = 0.45)", top: 10, mid: 7, tip: 4, textOff: 17 },
};

// ---------------- components ----------------
function ChartCanvas({ spec }: { spec: PanelSpec }) {
  const ref = useRef<HTMLCanvasElement | null>(null);
  useEffect(() => {
    if (!ref.current) return;
    const chart = new Chart(ref.current, makeConfig(spec) as any);
    return () => chart.destroy();
  }, [spec]);
  const w = spec.cR - spec.cL;
  const h = spec.cB - spec.cT;
  return (
    <canvas
      ref={ref}
      width={w}
      height={h}
      style={{ position: "absolute", left: spec.cL, top: spec.cT, width: w, height: h, display: "block" }}
    />
  );
}

function Txt({ x, y, size, children, italic }: { x: number; y: number; size: number; children: any; italic?: boolean }) {
  const lh = size * 1.2;
  return (
    <div
      style={{
        position: "absolute", left: x, top: y - lh / 2, fontSize: size, lineHeight: `${lh}px`,
        fontFamily: FF, whiteSpace: "pre", color: "#000", fontStyle: italic ? "italic" : "normal",
      }}
    >
      {children}
    </div>
  );
}

function Letter({ x, y, children }: { x: number; y: number; children: any }) {
  return (
    <div style={{ position: "absolute", left: x, top: y, fontSize: 22, lineHeight: "22px", fontFamily: FF, color: "#000" }}>
      {children}
    </div>
  );
}

function Dot({ x, y, r, color }: { x: number; y: number; r: number; color: string }) {
  return (
    <div style={{ position: "absolute", left: x - r, top: y - r, width: 2 * r, height: 2 * r, borderRadius: "50%", background: color }} />
  );
}

function KeyBox({ x, y, line, pt }: { x: number; y: number; line: string; pt: string }) {
  return (
    <div style={{ position: "absolute", left: x, top: y, width: 8, height: 8, boxSizing: "border-box", border: `1px solid ${line}`, background: "#fff" }}>
      <div style={{ position: "absolute", left: 2.2, top: 2.2, width: 2.2, height: 2.2, borderRadius: "50%", background: pt }} />
    </div>
  );
}

function Stat({ x, y, r2, p }: { x: number; y: number; r2: string; p: string }) {
  return (
    <>
      <Txt x={x} y={y} size={9.5}>
        <i>r</i>² = {r2}
      </Txt>
      <Txt x={x} y={y + 9.5} size={9.5}>
        <i>p</i> =  {p}
      </Txt>
    </>
  );
}

export default function App() {
  return (
    <div style={{ position: "absolute", left: 0, top: 0, width: 728, height: 917, background: "#fff", overflow: "hidden" }}>
      <ChartCanvas spec={SPEC_A} />
      <ChartCanvas spec={SPEC_B} />
      <ChartCanvas spec={SPEC_C} />
      <ChartCanvas spec={SPEC_D} />
      <ChartCanvas spec={SPEC_E} />
      <ChartCanvas spec={SPEC_F} />
      <ChartCanvas spec={SPEC_G} />

      <Letter x={5} y={2}>A</Letter>
      <Letter x={2} y={351}>B</Letter>
      <Letter x={242} y={350}>C</Letter>
      <Letter x={493} y={349}>D</Letter>
      <Letter x={7} y={634}>E</Letter>
      <Letter x={250} y={632}>F</Letter>
      <Letter x={499} y={634}>G</Letter>

      <Dot x={483} y={147} r={3.3} color={TEAL} />
      <Txt x={499} y={147} size={10.5}>HC</Txt>
      <Dot x={483} y={167} r={3.3} color={RED} />
      <Txt x={499} y={167} size={10.5}>ME</Txt>

      <Stat x={173} y={548} r2="0.01" p="0.38" />
      <Stat x={425} y={537} r2="0.00" p="0.69" />
      <Stat x={203} y={692} r2="0.00" p="0.66" />
      <Stat x={444} y={692} r2="0.00" p="0.69" />

      <KeyBox x={703} y={487} line={TEAL_LIGHT} pt={TEAL} />
      <KeyBox x={703} y={495} line={RED_LIGHT} pt={RED} />
      <Txt x={715} y={491} size={6.5}>HC</Txt>
      <Txt x={715} y={499} size={6.5}>ME</Txt>

      <KeyBox x={706} y={786} line={TEAL_LIGHT} pt={TEAL} />
      <KeyBox x={706} y={794} line={RED_LIGHT} pt={RED} />
      <Txt x={717} y={790} size={6.5}>HC</Txt>
      <Txt x={717} y={798} size={6.5}>ME</Txt>
    </div>
  );
}
